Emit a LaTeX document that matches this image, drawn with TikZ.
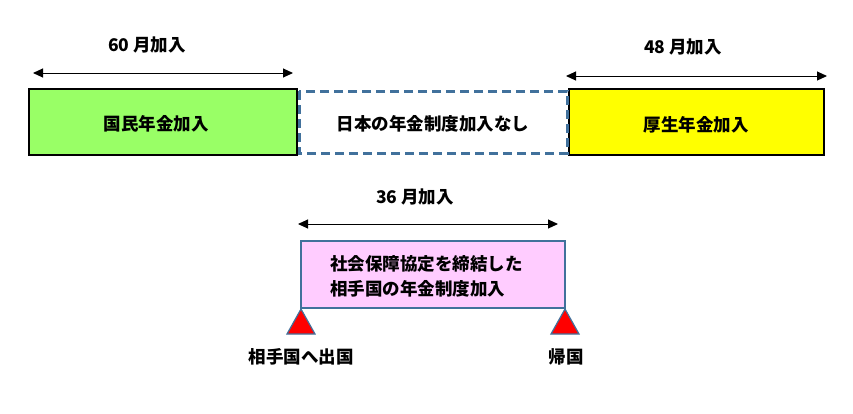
\documentclass[tikz,border=0pt]{standalone}
\usepackage{fontspec}
\setmainfont{Noto Sans CJK JP}
\usetikzlibrary{arrows.meta}
\definecolor{boxgreen}{HTML}{99FF66}
\definecolor{boxyellow}{HTML}{FFFF00}
\definecolor{steel}{HTML}{41719C}
\definecolor{pinkfill}{HTML}{FFCCFF}
\begin{document}
\begin{tikzpicture}[x=1pt,y=-1pt,
  lbl/.style={font=\fontsize{17.5}{21}\selectfont\bfseries, inner sep=0pt},
  period/.style={draw=black, line width=1pt, {Triangle[length=10pt,width=9pt]}-{Triangle[length=10pt,width=9pt]}},
  solidbox/.style={draw=black, line width=2pt},
  tri/.style={draw=steel, fill=red, line width=1.2pt}
]
\useasboundingbox (0,0) rectangle (853,413);
% boxes
\draw[solidbox, fill=boxgreen] (29,89) rectangle (297,155);
\node[lbl] (kokumin) at (156,124) {国民年金加入};
\draw[solidbox, fill=boxyellow] (569,89) rectangle (824,155);
\node[lbl] (kosei) at (696,125) {厚生年金加入};
\path[draw=steel,line width=3pt,dash pattern=on 9pt off 5pt] (299,91) rectangle (567,153);
\node[lbl] (none) at (433,124) {日本の年金制度加入なし};
% top arrows
\coordinate (a1) at (33,73); \coordinate (a2) at (293,73);
\draw[period] (a1) -- (a2);
\node[lbl] (l60) at (147,45) {60 月加入};
\coordinate (b1) at (566,76); \coordinate (b2) at (827,76);
\draw[period] (b1) -- (b2);
\node[lbl] (l48) at (683,47) {48 月加入};
% middle arrow
\coordinate (c1) at (298,224); \coordinate (c2) at (558,224);
\draw[period] (c1) -- (c2);
\node[lbl] (l36) at (415,197) {36 月加入};
% pink box
\draw[draw=steel, fill=pinkfill, line width=1.5pt] (301,241) rectangle (565,308);
\node[lbl, align=left, anchor=west, font=\fontsize{17.5}{25}\selectfont\bfseries] (foreign) at (330,276) {社会保障協定を締結した\\相手国の年金制度加入};
% triangles
\draw[tri] (301,309) -- (315,334) -- (287,334) -- cycle;
\draw[tri] (565,309) -- (579,334) -- (551,334) -- cycle;
\node[lbl] (depart) at (301,357) {相手国へ出国};
\node[lbl] (return) at (566,357) {帰国};
\end{tikzpicture}
\end{document}
